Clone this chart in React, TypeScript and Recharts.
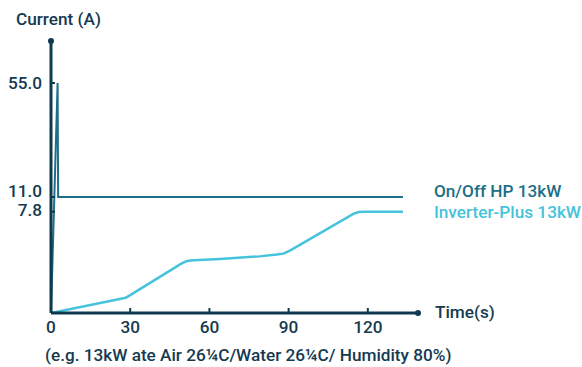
import { LineChart, Line, XAxis, YAxis, ReferenceDot } from 'recharts';

// time (s) and current (A)
const onOffTime = [0, 2.5, 2.7, 133.3];
const onOffCurrent = [0, 55, 11, 11];

const inverterTime = [0, 26.5, 28.3, 30, 49.5, 51.5, 54, 64, 79, 85.5, 88, 90.5, 114.5, 116.5, 119, 133.3];
const inverterCurrent = [0, 1.09, 1.17, 1.38, 3.82, 4.0, 4.06, 4.16, 4.36, 4.5, 4.57, 4.8, 7.63, 7.77, 7.8, 7.8];

const yTickValues = [7.8, 11, 55];
const xTickValues = [0, 30, 60, 90, 120];

const ON_OFF_LABEL = 'On/Off HP 13kW';
const INVERTER_LABEL = 'Inverter-Plus 13kW';

// the current axis is not linear: piecewise mapping from amps to axis units
const KNOTS_A = [0, 7.8, 11, 55];
const KNOTS_U = [0, 101.3, 116, 230];
const AXIS_TOP = 272;
const X_MAX = 139;

function toAxis(v: number) {
  for (let i = 1; i < KNOTS_A.length; i++) {
    if (v <= KNOTS_A[i]) {
      const f = (v - KNOTS_A[i - 1]) / (KNOTS_A[i] - KNOTS_A[i - 1]);
      return KNOTS_U[i - 1] + f * (KNOTS_U[i] - KNOTS_U[i - 1]);
    }
  }
  return KNOTS_U[KNOTS_U.length - 1];
}

const NAVY = '#0e3a4e';
const TEXT = '#153a50';
const ON_OFF = '#1c6f86';
const INVERTER = '#45c3dc';
const FONT = 'Roboto, sans-serif';
const FS = 17.2;
const FW = 500;

const onOffData = onOffTime.map((t, i) => ({ t, y: toAxis(onOffCurrent[i]) }));
const inverterData = inverterTime.map((t, i) => ({ t, y: toAxis(inverterCurrent[i]) }));

const yLabelShift: Record<string, number> = { '11': -6, '7.8': -2, '55': 0 };

const YTick = ({ x, y, payload }: any) => {
  const v = KNOTS_A[KNOTS_U.indexOf(payload.value)];
  const label = v === undefined ? '' : v.toFixed(1);
  return (
    <g>
      <line x1={x} x2={x + 4} y1={y} y2={y} stroke={NAVY} strokeWidth={2} />
      <text x={x - 9} y={y + (yLabelShift[String(v)] ?? 0) + 6} textAnchor="end" fontSize={FS} fontWeight={FW} fill={TEXT} fontFamily={FONT}>
        {label}
      </text>
    </g>
  );
};

const XTick = ({ x, y, payload }: any) => (
  <g>
    {payload.value !== 0 && <line x1={x} x2={x} y1={y} y2={y - 5} stroke={NAVY} strokeWidth={2} />}
    <text x={x} y={y + 20} textAnchor="middle" fontSize={FS} fontWeight={FW} fill={TEXT} fontFamily={FONT}>
      {payload.value}
    </text>
  </g>
);

const endLabel = (text: string, color: string, count: number, dy: number) => (props: any) => {
  if (props.index !== count - 1) return null;
  return (
    <text x={props.x + 31} y={props.y + 6 + dy} fontSize={FS} fontWeight={FW} fill={color} fontFamily={FONT}>
      {text}
    </text>
  );
};

export default function App() {
  return (
    <div style={{ position: 'absolute', left: 0, top: 0, width: 582, height: 367, background: '#fff', fontFamily: FONT, fontSize: FS, fontWeight: FW, color: TEXT }}>
      <div style={{ position: 'absolute', left: 16, top: 9 }}>Current (A)</div>
      <LineChart width={582} height={367} data={inverterData} margin={{ top: 41, left: 50, right: 164, bottom: 53 }}>
        <XAxis
          dataKey="t"
          type="number"
          domain={[0, X_MAX]}
          ticks={xTickValues}
          interval={0}
          height={1}
          tickSize={0}
          tickMargin={0}
          tickLine={false}
          axisLine={{ stroke: NAVY, strokeWidth: 3 }}
          tick={<XTick />}
          allowDataOverflow
        />
        <YAxis
          type="number"
          domain={[0, AXIS_TOP]}
          ticks={yTickValues.map(toAxis)}
          interval={0}
          width={1}
          tickSize={0}
          tickMargin={0}
          tickLine={false}
          axisLine={{ stroke: NAVY, strokeWidth: 3 }}
          tick={<YTick />}
          allowDataOverflow
        />
        <Line
          data={onOffData}
          dataKey="y"
          type="linear"
          stroke={ON_OFF}
          strokeWidth={2}
          dot={false}
          isAnimationActive={false}
          label={endLabel(ON_OFF_LABEL, ON_OFF, onOffData.length, -6)}
        />
        <Line
          data={inverterData}
          dataKey="y"
          type="linear"
          stroke={INVERTER}
          strokeWidth={2.5}
          dot={false}
          isAnimationActive={false}
          label={endLabel(INVERTER_LABEL, INVERTER, inverterData.length, 0)}
        />
        <ReferenceDot x={0} y={AXIS_TOP} r={3} fill={NAVY} stroke="none" ifOverflow="visible" />
        <ReferenceDot x={X_MAX} y={0} r={3} fill={NAVY} stroke="none" ifOverflow="visible" />
      </LineChart>
      <div style={{ position: 'absolute', left: 435, top: 302 }}>Time(s)</div>
      <div style={{ position: 'absolute', left: 45, top: 345 }}>
        (e.g. 13kW ate Air 26¼C/Water 26¼C/ Humidity 80%)
      </div>
    </div>
  );
}
